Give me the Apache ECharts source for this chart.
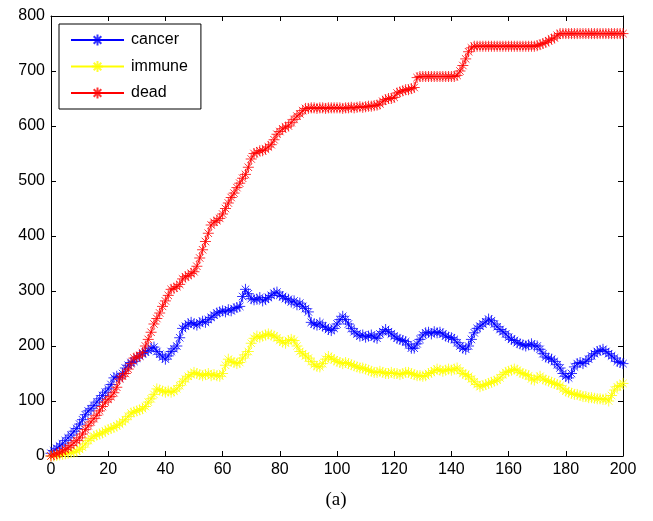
<!DOCTYPE html>
<html>
<head>
<meta charset="utf-8">
<script src="https://cdn.jsdelivr.net/npm/echarts@6/dist/echarts.min.js"></script>
<style>
html,body{margin:0;padding:0;background:#fff;}
#chart{width:653px;height:521px;}
</style>
</head>
<body>
<div id="chart"></div>
<script>
const seriesNames = ['cancer', 'immune', 'dead'];
const xTicks = [0,20,40,60,80,100,120,140,160,180,200];
const yTicks = [0,100,200,300,400,500,600,700,800];
const caption = '(a)';

const cancer = [
  5,10,14,18,22,28,33,38,45,50,
  58,66,75,82,86,92,98,104,110,116,
  122,130,142,145,142,150,160,165,170,172,
  178,182,186,189,192,196,198,190,185,180,
  176,182,190,195,200,215,232,236,240,243,
  240,238,242,245,243,248,252,256,260,262,
  264,262,266,264,268,270,272,290,303,295,
  286,284,285,288,282,285,288,292,296,298,
  292,290,286,285,280,282,275,278,272,268,
  262,243,240,238,242,236,234,230,228,232,
  240,248,254,248,240,232,226,222,218,220,
  216,218,220,216,214,222,226,230,226,222,
  218,214,212,210,208,202,196,196,204,212,
  220,224,225,222,226,224,225,222,218,216,
  215,212,206,200,196,194,200,212,224,232,
  236,240,244,249,246,240,235,230,226,222,
  216,212,210,206,204,202,200,202,204,200,
  200,194,186,180,178,176,172,166,160,150,
  145,142,150,162,168,170,168,172,176,182,
  186,190,192,194,190,186,182,178,172,170,
  168
];
const immune = [
  0,0,1,2,3,4,5,6,7,9,
  12,16,22,28,32,36,38,40,42,45,
  48,50,52,55,58,62,66,72,78,80,
  82,84,86,90,98,104,112,122,120,118,
  116,118,116,118,122,128,135,140,145,148,
  152,150,148,146,148,150,146,148,146,145,
  150,165,176,172,170,168,170,178,184,190,
  205,214,218,216,218,220,222,220,218,215,
  210,207,205,210,212,210,200,190,186,182,
  178,172,166,163,162,168,176,181,178,175,
  172,170,168,170,168,166,164,162,160,160,
  158,156,154,152,152,154,152,150,150,152,
  150,150,148,150,152,152,150,148,146,146,
  145,146,150,152,155,158,156,154,156,158,
  156,158,160,155,150,148,145,140,135,130,
  126,128,130,132,134,136,138,142,148,152,
  154,156,158,156,152,150,148,146,140,138,
  142,145,140,138,136,134,132,130,128,122,
  118,116,114,112,112,110,108,108,106,106,
  105,104,104,103,104,100,110,120,126,128,
  132
];
const dead = [
  0,2,4,6,9,12,15,19,24,28,
  33,40,48,55,62,68,74,82,90,98,
  103,108,115,125,140,145,150,158,168,178,
  180,182,188,200,212,225,240,250,260,272,
  282,292,303,305,308,312,322,326,328,332,
  335,345,360,375,390,405,420,425,428,432,
  440,450,460,470,478,488,496,505,512,525,
  540,550,552,555,555,558,562,566,575,585,
  590,595,598,600,606,612,618,622,628,632,
  632,633,633,632,633,633,632,633,633,633,
  633,633,632,633,633,634,633,634,635,634,
  635,636,636,637,638,640,645,648,650,650,
  652,660,662,664,666,666,668,670,688,690,
  690,690,690,690,690,690,690,690,690,690,
  690,690,692,700,710,722,735,742,745,745,
  745,745,745,745,745,745,745,745,745,745,
  745,745,745,745,745,745,745,745,745,745,
  746,748,750,752,755,758,760,765,768,768,
  768,768,768,768,768,768,768,768,768,768,
  768,768,768,768,768,768,768,768,768,768,
  768
];

const colors = ['#0000ff', '#ffff00', '#ff0000'];
const starPath = 'path://M0,5L10,5M5,0L5,10M1.6,1.6L8.4,8.4M8.4,1.6L1.6,8.4';

function pairs(arr) {
  const out = [];
  for (let i = 0; i < arr.length; i++) out.push([i, arr[i]]);
  return out;
}

const font = 'Liberation Sans, Arial, Helvetica, sans-serif';
const values = [cancer, immune, dead];

const chart = echarts.init(document.getElementById('chart'), null, {renderer: 'canvas'});

function xAx(pos, showLabel) {
  return {
    type: 'value', position: pos, min: 0, max: 200, interval: 20,
    axisLine: {show: true, onZero: false, lineStyle: {color: '#000', width: 1}},
    axisTick: {show: true, inside: true, length: 5, lineStyle: {color: '#000'}},
    axisLabel: {show: showLabel, color: '#000', fontSize: 16, fontFamily: font, margin: 6},
    splitLine: {show: false}
  };
}
function yAx(pos, showLabel) {
  return {
    type: 'value', position: pos, min: 0, max: 800, interval: 100,
    axisLine: {show: true, onZero: false, lineStyle: {color: '#000', width: 1}},
    axisTick: {show: true, inside: true, length: 5, lineStyle: {color: '#000'}},
    axisLabel: {show: showLabel, color: '#000', fontSize: 16, fontFamily: font, margin: 6},
    splitLine: {show: false}
  };
}

chart.setOption({
  animation: false,
  backgroundColor: '#fff',
  grid: {left: 51, right: 30, top: 16, bottom: 65, containLabel: false},
  xAxis: [xAx('bottom', true), xAx('top', false)],
  yAxis: [yAx('left', true), yAx('right', false)],
  title: {
    text: caption, left: 331, top: 486, textAlign: 'center',
    textStyle: {fontFamily: 'Liberation Serif, Times New Roman, serif', fontWeight: 'normal', fontSize: 19, color: '#000'}
  },
  legend: {
    orient: 'vertical', left: 59, top: 24,
    backgroundColor: '#fff',
    borderColor: '#000', borderWidth: 1, borderRadius: 0,
    padding: [8, 13, 8, 11],
    itemWidth: 53, itemHeight: 14, itemGap: 10.5,
    textStyle: {fontFamily: font, fontSize: 16, color: '#000', padding: [0, 0, 0, 2]},
    data: seriesNames
  },
  series: seriesNames.map((name, k) => ({
    name: name,
    type: 'line',
    data: pairs(values[k]),
    color: colors[k],
    symbol: starPath,
    symbolSize: 11,
    showAllSymbol: true,
    lineStyle: {color: colors[k], width: 1},
    itemStyle: {color: colors[k], borderColor: colors[k], borderWidth: 1, opacity: 0.8},
    emphasis: {disabled: true}
  }))
});
</script>
</body>
</html>
